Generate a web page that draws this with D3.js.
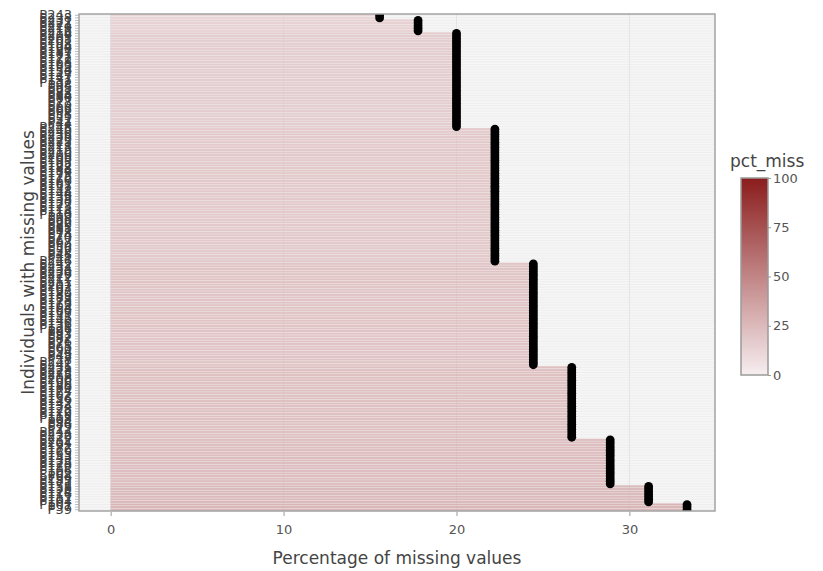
<!DOCTYPE html>
<html>
<head>
<meta charset="utf-8">
<script src="https://cdn.jsdelivr.net/npm/d3@7"></script>
<style>
  html, body { margin: 0; padding: 0; background: #fff; }
  svg { display: block; }
  text { font-family: "DejaVu Sans", Verdana, sans-serif; }
</style>
</head>
<body>
<svg id="chart" width="823" height="571"></svg>
<script>
// Number of variables checked for each individual
const nVars = 45;

// Individuals with at least one missing value, listed top to bottom
const caseIds = (
  "P243 P238 P231 P227 P224 P219 P216 P214 P209 P205 P201 P198 P194 P190 P187 P181 P177 P172 P168 P163 P159 P154 P150 P147 P141 P137 P132 " +
  "P98 P95 P91 P88 P84 P80 P77 P73 P69 P66 P62 P58 P55 P51 P47 P44 " +
  "P248 P245 P240 P236 P233 P229 P225 P221 P218 P213 P210 P206 P203 P199 P195 P192 P188 P184 P179 P175 P170 P166 P161 P157 P152 P148 P144 P139 P135 P130 P127 P123 P118 P114 P110 " +
  "P99 P96 P92 P89 P85 P81 P78 P74 P70 P67 P63 P59 P56 P52 P48 P45 P41 " +
  "P246 P242 P237 P234 P230 P226 P222 P217 P211 P207 P202 P197 P193 P189 P183 P178 P173 P169 P164 P160 P155 P151 P145 P140 P136 P131 P126 " +
  "P97 P93 P87 P82 P76 P71 P65 P60 P54 P49 P43 P38 " +
  "P247 P241 P235 P228 P223 P215 P208 P200 P196 P186 P180 P174 P167 P162 P156 P149 P142 P134 P128 P122 P119 P115 P108 " +
  "P94 P86 P79 P72 " +
  "P244 P232 P220 P212 P204 P191 P182 P176 P165 P153 P143 P133 P125 P120 P112 P106 P102 " +
  "P64 " +
  "P239 P185 P171 P158 P138 P124 P116 P111 P107 P104 P101 " +
  "P57 P39"
).split(" ");

// Number of missing variables for each individual, same order as caseIds
const nMiss = [
  7, 7,
  8, 8, 8, 8, 8,
  9, 9, 9, 9, 9, 9, 9, 9, 9, 9, 9, 9, 9, 9, 9, 9, 9, 9, 9, 9, 9, 9, 9, 9, 9, 9, 9, 9, 9, 9, 9, 9, 9, 9, 9, 9, 9,
  10, 10, 10, 10, 10, 10, 10, 10, 10, 10, 10, 10, 10, 10, 10, 10, 10, 10, 10, 10, 10, 10, 10, 10, 10, 10,
  10, 10, 10, 10, 10, 10, 10, 10, 10, 10, 10, 10, 10, 10, 10, 10, 10, 10, 10, 10, 10, 10, 10, 10, 10, 10,
  11, 11, 11, 11, 11, 11, 11, 11, 11, 11, 11, 11, 11, 11, 11, 11, 11, 11, 11, 11,
  11, 11, 11, 11, 11, 11, 11, 11, 11, 11, 11, 11, 11, 11, 11, 11, 11, 11, 11, 11,
  12, 12, 12, 12, 12, 12, 12, 12, 12, 12, 12, 12, 12, 12, 12, 12, 12, 12, 12, 12, 12, 12, 12, 12, 12, 12, 12, 12,
  13, 13, 13, 13, 13, 13, 13, 13, 13, 13, 13, 13, 13, 13, 13, 13, 13, 13,
  14, 14, 14, 14, 14, 14, 14,
  15, 15, 15
];

const xTicks = [0, 10, 20, 30];
const legendTicks = [0, 25, 50, 75, 100];

const rows = caseIds.map((id, i) => ({ id, pct: nMiss[i] / nVars * 100 }));

const svg = d3.select("#chart");
const panel = { left: 79, right: 715, top: 14, bottom: 511 };

const x = d3.scaleLinear().domain([-1.83, 34.95]).range([panel.left, panel.right]);
const y = d3.scaleBand().domain(caseIds).range([panel.top, panel.bottom]).padding(0);
const color = d3.scaleLinear().domain([0, 100]).range(["#f7eef0", "#8b1c1c"]).interpolate(d3.interpolateRgb);

// Panel background and grid
svg.append("rect")
  .attr("x", panel.left).attr("y", panel.top)
  .attr("width", panel.right - panel.left).attr("height", panel.bottom - panel.top)
  .attr("fill", "#f6f6f6");

svg.append("defs").append("clipPath").attr("id", "panel-clip")
  .append("rect")
  .attr("x", panel.left).attr("y", panel.top)
  .attr("width", panel.right - panel.left).attr("height", panel.bottom - panel.top);

const plot = svg.append("g").attr("clip-path", "url(#panel-clip)");

plot.append("g").selectAll("line").data(caseIds).join("line")
  .attr("x1", panel.left).attr("x2", panel.right)
  .attr("y1", d => y(d) + y.bandwidth() / 2).attr("y2", d => y(d) + y.bandwidth() / 2)
  .attr("stroke", "#e9e9e9").attr("stroke-width", 0.6);

plot.append("g").selectAll("line").data(xTicks).join("line")
  .attr("x1", d => x(d)).attr("x2", d => x(d))
  .attr("y1", panel.top).attr("y2", panel.bottom)
  .attr("stroke", "#e4e4e4").attr("stroke-width", 1);

// Bars
plot.append("g").selectAll("rect").data(rows).join("rect")
  .attr("x", x(0))
  .attr("y", d => y(d.id) + 0.2)
  .attr("width", d => x(d.pct) - x(0))
  .attr("height", y.bandwidth() - 0.4)
  .attr("fill", d => color(d.pct))
  .attr("fill-opacity", 0.82);

// Points at the end of each bar
plot.append("g").selectAll("circle").data(rows).join("circle")
  .attr("cx", d => x(d.pct))
  .attr("cy", d => y(d.id) + y.bandwidth() / 2)
  .attr("r", 4.4)
  .attr("fill", "#000");

// Panel border
svg.append("rect")
  .attr("x", panel.left).attr("y", panel.top)
  .attr("width", panel.right - panel.left).attr("height", panel.bottom - panel.top)
  .attr("fill", "none").attr("stroke", "#a3a3a3").attr("stroke-width", 1.5);

// X axis
const xAxis = svg.append("g").attr("transform", `translate(0,${panel.bottom})`)
  .call(d3.axisBottom(x).tickValues(xTicks).tickSize(4).tickPadding(10).tickFormat(d3.format("d")));
xAxis.select(".domain").remove();
xAxis.selectAll(".tick line").attr("stroke", "#9a9a9a").attr("transform", "translate(0,1)");
xAxis.selectAll(".tick text").attr("fill", "#555").attr("font-size", 13)
  .attr("font-family", "DejaVu Sans, Verdana, sans-serif");

// Y axis
const yAxis = svg.append("g").attr("transform", `translate(${panel.left},0)`)
  .call(d3.axisLeft(y).tickSize(4).tickPadding(3));
yAxis.select(".domain").remove();
yAxis.selectAll(".tick line").attr("stroke", "#a8a8a8").attr("stroke-width", 0.8);
yAxis.selectAll(".tick text").attr("fill", "#444").attr("font-size", 13)
  .attr("font-family", "DejaVu Sans, Verdana, sans-serif");

// Axis titles
svg.append("text")
  .attr("x", (panel.left + panel.right) / 2).attr("y", 564)
  .attr("text-anchor", "middle").attr("font-size", 17).attr("fill", "#444")
  .text("Percentage of missing values");

svg.append("text")
  .attr("transform", `translate(34,${(panel.top + panel.bottom) / 2}) rotate(-90)`)
  .attr("text-anchor", "middle").attr("font-size", 17).attr("fill", "#444")
  .text("Individuals with missing values");

// Colour bar legend
const legend = { x: 741, width: 27, top: 178, bottom: 375 };
const ly = d3.scaleLinear().domain([0, 100]).range([legend.bottom, legend.top]);

const grad = svg.select("defs").append("linearGradient")
  .attr("id", "pct-grad").attr("x1", 0).attr("x2", 0).attr("y1", 1).attr("y2", 0);
grad.selectAll("stop").data(d3.range(0, 101, 10)).join("stop")
  .attr("offset", d => d / 100)
  .attr("stop-color", d => color(d));

svg.append("text")
  .attr("x", 730).attr("y", 167)
  .attr("font-size", 17).attr("fill", "#444")
  .text("pct_miss");

svg.append("rect")
  .attr("x", legend.x).attr("y", legend.top)
  .attr("width", legend.width).attr("height", legend.bottom - legend.top)
  .attr("fill", "url(#pct-grad)")
  .attr("stroke", "#9a9a9a").attr("stroke-width", 1.5);

const lAxis = svg.append("g").attr("transform", `translate(${legend.x + legend.width},0)`)
  .call(d3.axisRight(ly).tickValues(legendTicks).tickSize(3).tickPadding(2));
lAxis.select(".domain").remove();
lAxis.selectAll(".tick line").attr("stroke", "#9a9a9a");
lAxis.selectAll(".tick text").attr("fill", "#555").attr("font-size", 13)
  .attr("font-family", "DejaVu Sans, Verdana, sans-serif");
</script>
</body>
</html>
